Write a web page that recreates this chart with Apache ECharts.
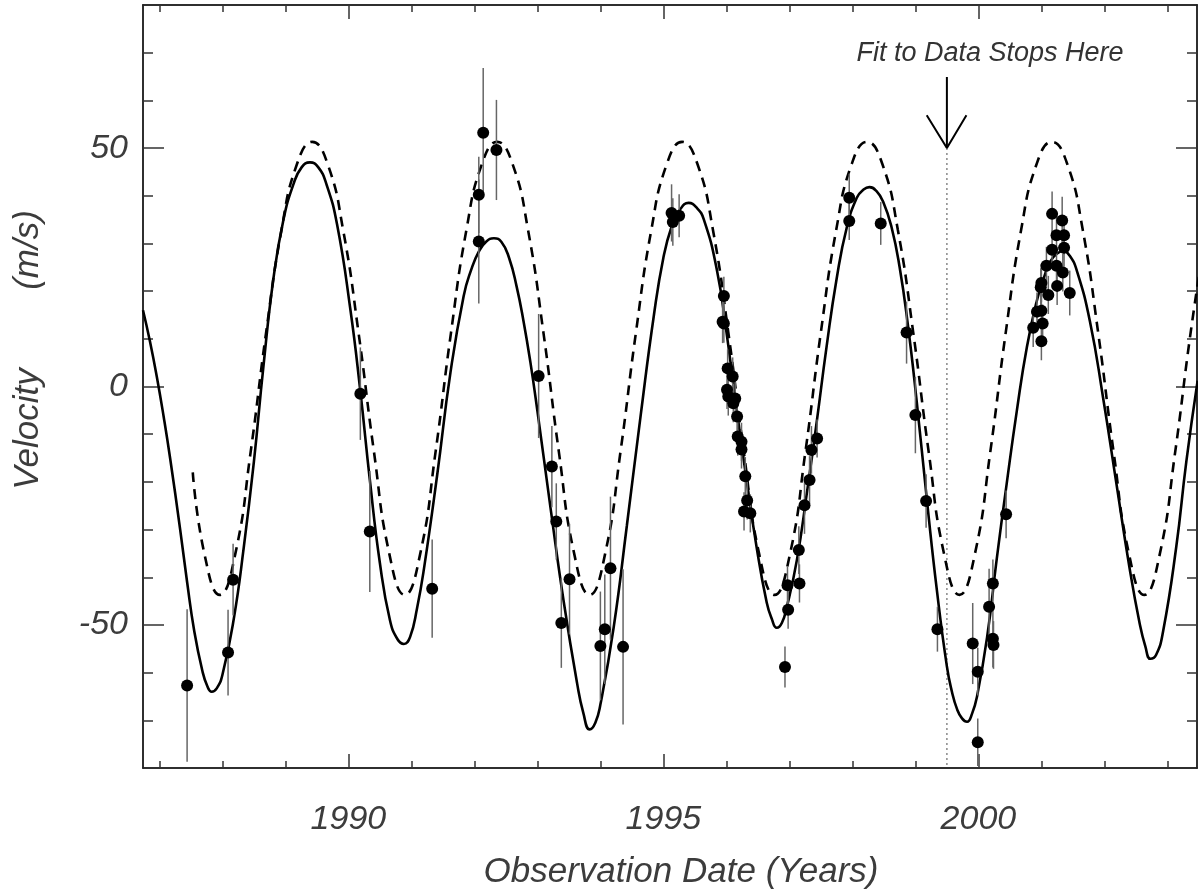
<!DOCTYPE html>
<html>
<head>
<meta charset="utf-8">
<script src="https://cdn.jsdelivr.net/npm/echarts@6/dist/echarts.min.js"></script>
<style>html,body{margin:0;padding:0;background:#fff}#c{width:1198px;height:894px}</style>
</head>
<body>
<div id="c"></div>
<script>
// ---- axis ranges and tick values ----
const X_MIN = 1986.74, X_MAX = 2003.47;
const Y_MIN = -80, Y_MAX = 80;
const xMajorTicks = [1990, 1995, 2000];
const xMinorTicks = [1987,1988,1989,1991,1992,1993,1994,1996,1997,1998,1999,2001,2002,2003];
const yMajorTicks = [-50, 0, 50];
const yMinorTicks = [-70,-60,-40,-30,-20,-10,10,20,30,40,60,70];

// ---- fitted model (solid): [year, velocity] ----
const fitSolid = [
[1986.74,16.0],[1986.85,9.5],[1986.96,2.0],[1987.07,-6.5],[1987.17,-15.0],[1987.33,-30.0],[1987.44,-41.0],
[1987.55,-51.0],[1987.68,-59.5],[1987.76,-62.8],[1987.83,-64.0],[1987.91,-63.3],[1988.00,-60.5],[1988.18,-48.8],
[1988.34,-33.7],[1988.50,-15.8],[1988.65,4.0],[1988.81,22.6],[1988.97,35.0],[1989.13,42.5],[1989.26,46.0],
[1989.39,47.0],[1989.52,46.0],[1989.65,42.5],[1989.82,34.0],[1990.03,16.3],[1990.19,-1.0],[1990.34,-19.5],
[1990.50,-37.0],[1990.66,-49.0],[1990.78,-53.0],[1990.88,-54.0],[1990.98,-52.5],[1991.09,-46.5],[1991.20,-38.2],
[1991.41,-18.5],[1991.62,2.9],[1991.83,19.0],[1991.95,24.5],[1992.07,28.3],[1992.19,30.4],[1992.31,31.1],
[1992.43,30.3],[1992.55,27.0],[1992.67,21.0],[1992.78,13.7],[1992.89,5.0],[1993.00,-5.1],[1993.21,-25.6],
[1993.42,-45.3],[1993.63,-62.2],[1993.73,-68.5],[1993.83,-71.9],[1993.92,-70.5],[1994.00,-66.7],[1994.21,-50.6],
[1994.42,-29.2],[1994.64,-6.0],[1994.85,15.0],[1995.00,27.0],[1995.13,33.5],[1995.26,37.0],[1995.40,38.5],
[1995.52,37.6],[1995.64,35.1],[1995.85,24.4],[1996.00,11.5],[1996.16,-4.5],[1996.32,-19.5],[1996.48,-33.7],
[1996.64,-45.3],[1996.72,-48.7],[1996.80,-50.6],[1996.88,-49.6],[1996.96,-46.2],[1997.12,-36.3],[1997.28,-22.1],
[1997.43,-7.8],[1997.59,8.3],[1997.75,22.6],[1997.91,33.3],[1998.07,39.6],[1998.17,41.2],[1998.27,41.8],
[1998.38,41.0],[1998.49,38.7],[1998.62,33.5],[1998.75,25.0],[1998.88,13.0],[1999.02,-3.0],[1999.19,-24.7],
[1999.34,-42.6],[1999.50,-58.7],[1999.58,-64.0],[1999.66,-67.6],[1999.74,-69.6],[1999.82,-70.3],[1999.90,-68.6],
[1999.98,-64.9],[2000.14,-52.4],[2000.29,-36.3],[2000.45,-20.3],[2000.61,-5.1],[2000.77,8.3],[2000.93,18.1],
[2001.04,22.8],[2001.14,26.2],[2001.25,27.9],[2001.35,28.4],[2001.45,27.4],[2001.56,24.4],[2001.77,13.7],
[2001.98,-2.4],[2002.19,-20.3],[2002.40,-38.1],[2002.56,-49.7],[2002.65,-54.5],[2002.73,-57.1],[2002.82,-56.3],
[2002.93,-51.5],[2003.14,-33.7],[2003.30,-15.8],[2003.48,1.2]
];

// ---- single-planet model (dashed): [year, velocity] ----
const fitDashed = [
[1987.53,-18.0],[1987.715,-35.1],[1987.96,-43.7],[1988.205,-35.1],[1988.449,-13.7],[1988.694,11.3],
[1988.938,32.8],[1989.183,46.6],[1989.427,51.3],[1989.672,46.6],[1989.917,32.8],[1990.161,11.3],
[1990.406,-13.7],[1990.65,-35.1],[1990.895,-43.7],[1991.14,-35.1],[1991.384,-13.7],[1991.629,11.3],
[1991.873,32.8],[1992.118,46.6],[1992.362,51.3],[1992.607,46.6],[1992.852,32.8],[1993.096,11.3],
[1993.341,-13.7],[1993.585,-35.1],[1993.83,-43.7],[1994.075,-35.1],[1994.319,-13.7],[1994.564,11.3],
[1994.808,32.8],[1995.053,46.6],[1995.297,51.3],[1995.542,46.6],[1995.787,32.8],[1996.031,11.3],
[1996.276,-13.7],[1996.52,-35.1],[1996.765,-43.7],[1997.01,-35.1],[1997.254,-13.7],[1997.499,11.3],
[1997.743,32.8],[1997.988,46.6],[1998.232,51.3],[1998.477,46.6],[1998.722,32.8],[1998.966,11.3],
[1999.211,-13.7],[1999.455,-35.1],[1999.7,-43.7],[1999.945,-35.1],[2000.189,-13.7],[2000.434,11.3],
[2000.678,32.8],[2000.923,46.6],[2001.167,51.3],[2001.412,46.6],[2001.657,32.8],[2001.901,11.3],
[2002.146,-13.7],[2002.39,-35.1],[2002.635,-43.7],[2002.88,-35.1],[2003.124,-13.7],[2003.369,11.3],
[2003.613,32.8]
];

// ---- observations: [year, velocity, error] ----
const observations = [
[1987.44,-62.7,16],[1988.09,-55.8,9],[1988.17,-40.5,7.5],[1990.19,-1.5,9.7],[1990.34,-30.4,12.7],
[1991.33,-42.4,10.3],[1992.14,53.2,13.6],[1992.07,40.2,8],[1992.07,30.4,13],[1992.35,49.6,10.5],
[1993.02,2.2,13],[1993.23,-16.8,8.5],[1993.30,-28.3,8],[1993.38,-49.6,9.4],[1993.51,-40.4,11.6],
[1994.00,-54.4,11.4],[1994.07,-50.9,11.5],[1994.16,-38.1,15],[1994.36,-54.6,16.3],
[1995.13,36.4,6],[1995.15,34.5,5],[1995.25,35.8,4.5],
[1995.96,19.0,4],[1995.94,13.6,4.5],[1995.96,13.2,4],[1996.02,3.8,4],[1996.10,2.1,4],[1996.01,-0.7,4],
[1996.03,-2.1,4],[1996.14,-2.5,4],[1996.11,-3.5,4],[1996.17,-6.3,4],[1996.18,-10.5,4],[1996.24,-11.6,4],
[1996.24,-13.2,4],[1996.30,-18.8,4],[1996.33,-23.9,4],[1996.28,-26.2,4],[1996.38,-26.6,4],
[1996.93,-58.8,4.3],[1996.97,-41.7,4],[1996.98,-46.8,4],[1997.15,-34.3,5],[1997.16,-41.3,4],
[1997.24,-24.9,6],[1997.32,-19.6,5],[1997.35,-13.3,5],[1997.44,-10.9,4],
[1997.95,39.6,5],[1997.95,34.7,4],[1998.45,34.2,4.5],[1998.86,11.3,6.5],[1999.00,-6.0,8],
[1999.17,-24.0,5.6],[1999.35,-50.9,4.7],[1999.91,-53.9,8.5],[1999.99,-59.8,5],[1999.99,-74.6,5],
[2000.17,-46.2,8],[2000.23,-41.3,5],[2000.23,-52.9,6],[2000.24,-54.2,5],[2000.44,-26.8,5],
[2001.17,36.2,4.7],[2001.33,34.8,5],[2001.24,31.7,4],[2001.36,31.7,4],[2001.17,28.7,4],[2001.36,29.1,4],
[2001.08,25.3,4],[2001.24,25.3,4],[2001.34,23.9,4],[2001.00,21.7,4],[2000.99,20.8,4],[2001.11,19.2,4],
[2001.25,21.1,4],[2001.45,19.6,4.7],[2000.93,15.7,4],[2001.00,15.9,4],[2000.87,12.3,4],[2001.02,13.2,4],
[2001.00,9.5,4]
];

// ---- annotation (data coordinates) ----
const fitStopYear = 1999.5;
const fitStopLine = [[fitStopYear, 50], [fitStopYear, Y_MIN]];
const arrowShaft = [[fitStopYear, 64.9], [fitStopYear, 50]];
const arrowHead = [[1999.18, 56.9], [fitStopYear, 50], [1999.81, 56.9]];
const annotationText = 'Fit to Data Stops Here';

const FONT = '"Liberation Sans", Arial, Helvetica, sans-serif';
const TXT = '#3c3c3c';

function xAxisDef(pos, ticks, len, labels) {
  return {
    type: 'value', gridIndex: 0, position: pos, min: X_MIN, max: X_MAX,
    axisLine: { show: true, onZero: false, lineStyle: { color: '#222', width: 1.5 } },
    axisTick: { show: true, inside: true, length: len, customValues: ticks, lineStyle: { color: '#333', width: 1.5 } },
    axisLabel: labels ? { show: true, customValues: ticks, margin: 35, fontSize: 34, fontStyle: 'italic', fontFamily: FONT, color: TXT, formatter: v => String(Math.round(v)) } : { show: false },
    splitLine: { show: false }, minorTick: { show: false }
  };
}
function yAxisDef(pos, ticks, len, labels) {
  return {
    type: 'value', gridIndex: 0, position: pos, min: Y_MIN, max: Y_MAX,
    axisLine: { show: true, onZero: false, lineStyle: { color: '#222', width: 1.5 } },
    axisTick: { show: true, inside: true, length: len, customValues: ticks, lineStyle: { color: '#333', width: 1.5 } },
    axisLabel: labels ? { show: true, customValues: ticks, margin: 15, fontSize: 34, fontStyle: 'italic', fontFamily: FONT, color: TXT, formatter: v => String(Math.round(v)) } : { show: false },
    splitLine: { show: false }, minorTick: { show: false }
  };
}

const chart = echarts.init(document.getElementById('c'), null, { renderer: 'canvas' });
chart.setOption({
  animation: false,
  backgroundColor: '#fff',
  grid: { left: 143, right: 1, top: 5, bottom: 126, containLabel: false },
  xAxis: [
    xAxisDef('bottom', xMajorTicks, 14, true),
    xAxisDef('bottom', xMinorTicks, 7, false),
    xAxisDef('top', xMajorTicks, 14, false),
    xAxisDef('top', xMinorTicks, 7, false)
  ],
  yAxis: [
    yAxisDef('left', yMajorTicks, 21, true),
    yAxisDef('left', yMinorTicks, 10, false),
    yAxisDef('right', yMajorTicks, 21, false),
    yAxisDef('right', yMinorTicks, 10, false)
  ],
  series: [
    { type: 'line', name: 'dashed', data: fitDashed, smooth: 0.5, showSymbol: false, silent: true,
      lineStyle: { color: '#000', width: 2.6, type: [10, 7] }, z: 2 },
    { type: 'line', name: 'solid', data: fitSolid, smooth: 0.5, showSymbol: false, silent: true,
      lineStyle: { color: '#000', width: 2.6 }, z: 3 },
    { type: 'line', name: 'stop', data: fitStopLine, showSymbol: false, silent: true,
      lineStyle: { color: '#888', width: 1.5, type: [2, 3] }, z: 1 },
    { type: 'custom', name: 'err', data: observations, z: 4, silent: true,
      encode: { x: 0, y: 1 },
      renderItem: function (params, api) {
        const x = api.value(0), y = api.value(1), e = api.value(2);
        const lo = Math.max(y - e, Y_MIN), hi = Math.min(y + e, Y_MAX);
        const p1 = api.coord([x, lo]), p2 = api.coord([x, hi]);
        return { type: 'line', shape: { x1: p1[0], y1: p1[1], x2: p2[0], y2: p2[1] },
          style: { stroke: '#666', lineWidth: 1.5 } };
      }
    },
    { type: 'scatter', name: 'obs', data: observations.map(d => [d[0], d[1]]), symbol: 'circle', symbolSize: 12,
      itemStyle: { color: '#000', opacity: 1 }, z: 5, silent: true },
    { type: 'line', name: 'arrowShaft', data: arrowShaft, showSymbol: false, silent: true,
      lineStyle: { color: '#000', width: 2 }, z: 6 },
    { type: 'line', name: 'arrowHead', data: arrowHead, showSymbol: false, silent: true,
      lineStyle: { color: '#000', width: 2 }, z: 6 }
  ],
  graphic: [
    { type: 'text', x: 990, y: 53, z: 10, silent: true,
      style: { text: annotationText, fontSize: 27, fontStyle: 'italic', fontFamily: FONT, fill: '#333', align: 'center', verticalAlign: 'middle' } },
    { type: 'text', x: 681, y: 872, z: 10, silent: true,
      style: { text: 'Observation Date (Years)', fontSize: 35, fontStyle: 'italic', fontFamily: FONT, fill: TXT, align: 'center', verticalAlign: 'middle' } },
    { type: 'text', x: 28, y: 429, rotation: Math.PI / 2, z: 10, silent: true,
      style: { text: 'Velocity', fontSize: 35, fontStyle: 'italic', fontFamily: FONT, fill: TXT, align: 'center', verticalAlign: 'middle' } },
    { type: 'text', x: 28, y: 250, rotation: Math.PI / 2, z: 10, silent: true,
      style: { text: '(m/s)', fontSize: 35, fontStyle: 'italic', fontFamily: FONT, fill: TXT, align: 'center', verticalAlign: 'middle' } }
  ]
});
</script>
</body>
</html>
